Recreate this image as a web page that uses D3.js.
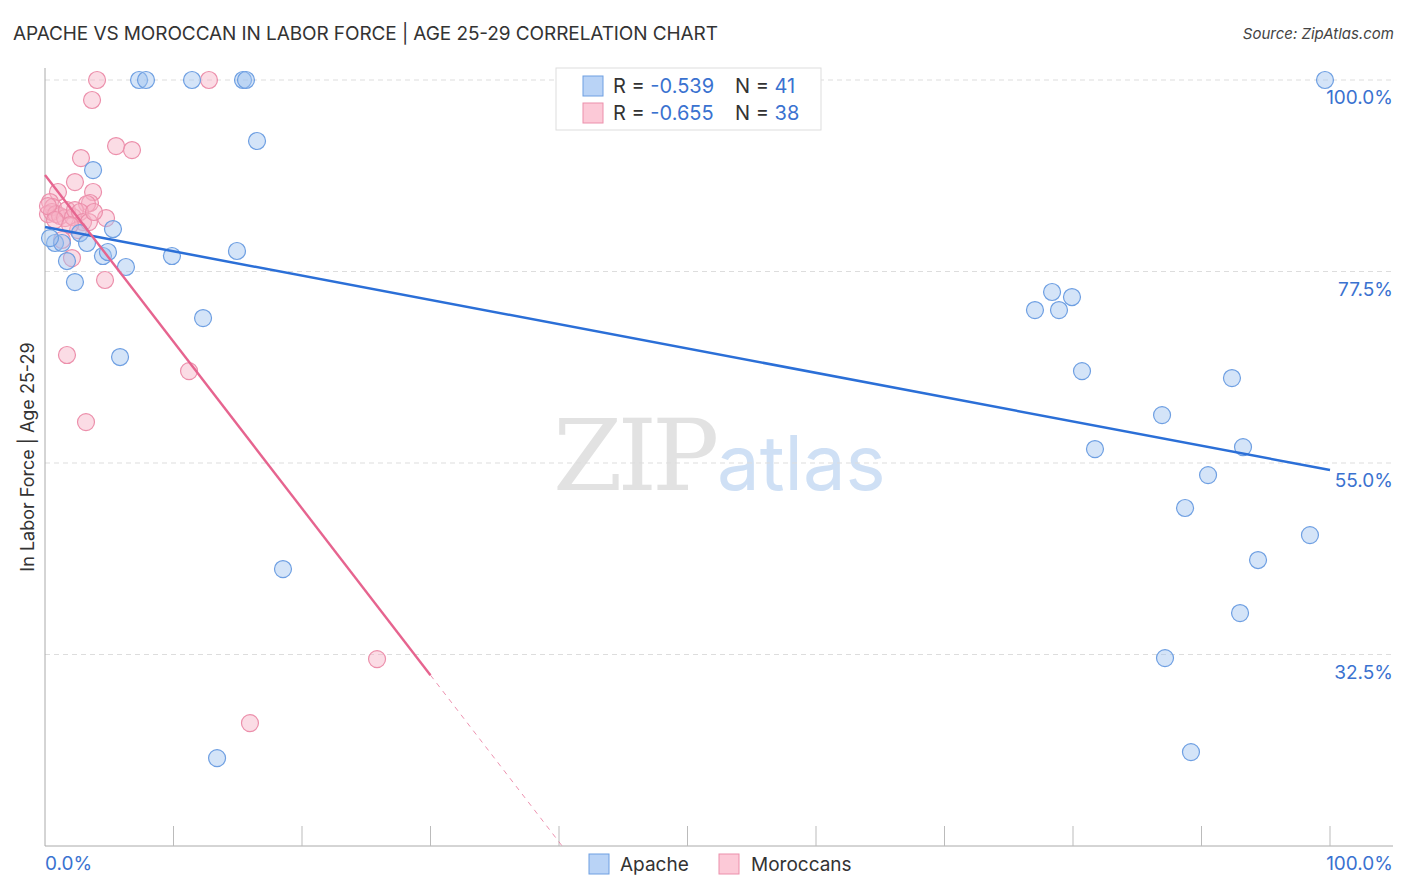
<!DOCTYPE html>
<html><head><meta charset="utf-8">
<script src="https://cdn.jsdelivr.net/npm/d3@7"></script>
<style>body{margin:0;background:#fff;font-family:Inter,"Open Sans",sans-serif}</style>
</head><body><svg id="c" width="1406" height="892"></svg>
<script>
const apacheX=[7.32,7.86,11.44,15.41,15.64,99.61,16.50,3.74,5.29,0.78,1.32,0.39,2.72,3.27,1.71,4.51,4.90,6.30,2.33,9.88,14.94,5.84,12.30,18.52,13.39,78.37,79.92,77.04,78.91,80.70,92.37,86.93,81.71,93.23,90.51,88.72,98.44,94.40,93.00,87.16,89.18];
const apacheY=[100,100,100,100,100,100,92.83,89.42,82.49,80.85,80.85,81.43,82.02,80.85,78.73,79.32,79.79,78.03,76.26,79.32,79.91,67.45,72.03,42.54,20.33,75.09,74.50,72.97,72.97,65.80,64.98,60.63,56.64,56.87,53.58,49.71,46.53,43.60,37.37,32.08,21.03];
const morX=[4.05,12.76,3.66,5.53,6.77,2.80,2.33,1.01,3.74,3.50,3.27,4.75,0.39,0.62,0.23,0.54,0.86,1.17,1.56,1.71,2.18,2.33,2.72,2.96,3.42,2.57,1.32,2.10,4.67,1.71,3.19,11.21,25.84,15.95,0.23,0.78,1.95,3.81];
const morY=[100,100,97.65,92.24,91.77,90.83,88.01,86.84,86.84,85.55,85.43,83.78,85.66,85.08,84.25,84.49,84.25,84.02,83.78,84.72,83.90,84.72,84.49,83.31,83.31,82.37,81.20,79.08,76.50,67.69,59.81,65.80,31.96,24.44,85.19,83.55,82.96,84.49];
const apacheFit=[82.73,54.17]; // y at x=0, y at x=100
const morFit=[88.84,-1.959]; // intercept, slope
const morSolidEnd=30;
const yTicks=[100,77.5,55,32.5];
const xTicks=[0,10,20,30,40,50,60,70,80,90,100];
const legendRows=[{name:"Apache",r:"-0.539",n:"41"},{name:"Moroccans",r:"-0.655",n:"38"}];

const svg=d3.select("#c");
const x=d3.scaleLinear().domain([0,100]).range([45,1330]);
const y=d3.scaleLinear().domain([10,100]).range([846,80]);
const blue={fill:"rgba(160,195,240,0.45)",stroke:"#6e9fe2",line:"#2b6fd7"};
const pink={fill:"rgba(247,178,198,0.45)",stroke:"#ec8fab",line:"#e6648f"};

// title
svg.append("text").attr("x",13).attr("y",40).attr("font-size",19).attr("fill","#333").attr("textLength",705).text("APACHE VS MOROCCAN IN LABOR FORCE | AGE 25-29 CORRELATION CHART");
svg.append("text").attr("x",1394).attr("y",39).attr("text-anchor","end").attr("font-size",15).attr("font-style","italic").attr("fill","#444").text("Source: ZipAtlas.com");

// watermark
svg.append("text").attr("x",553).attr("y",490).attr("font-size",100).attr("font-family","'DejaVu Serif',serif").attr("fill","#e2e2e2").attr("letter-spacing",-5).text("ZIP");
svg.append("text").attr("x",717).attr("y",490).attr("font-size",76).attr("fill","#cfe0f5").text("atlas");

// gridlines
svg.append("g").selectAll("line").data(yTicks).join("line")
 .attr("x1",45).attr("x2",1393).attr("y1",d=>y(d)).attr("y2",d=>y(d))
 .attr("stroke","#ddd").attr("stroke-dasharray","5,4");
// y labels
svg.append("g").selectAll("text").data(yTicks).join("text")
 .attr("x",1393).attr("y",d=>y(d)+24).attr("text-anchor","end").attr("font-size",19).attr("fill","#3a72d0")
 .text(d=>d.toFixed(1)+"%");
// axes lines
svg.append("line").attr("x1",45).attr("x2",45).attr("y1",68).attr("y2",846).attr("stroke","#aaa");
svg.append("line").attr("x1",45).attr("x2",1393).attr("y1",846).attr("y2",846).attr("stroke","#aaa");
svg.append("g").selectAll("line").data(xTicks.slice(1)).join("line")
 .attr("x1",d=>x(d)).attr("x2",d=>x(d)).attr("y1",826).attr("y2",846).attr("stroke","#bbb");
svg.append("text").attr("x",45).attr("y",870).attr("font-size",19).attr("fill","#3a72d0").text("0.0%");
svg.append("text").attr("x",1393).attr("y",870).attr("text-anchor","end").attr("font-size",19).attr("fill","#3a72d0").text("100.0%");
svg.append("text").attr("transform","translate(34,457) rotate(-90)").attr("text-anchor","middle").attr("font-size",18).attr("fill","#333").text("In Labor Force | Age 25-29");

// points
function dots(xs,ys,c){
 svg.append("g").selectAll("circle").data(xs.map((v,i)=>[v,ys[i]])).join("circle")
  .attr("cx",d=>x(d[0])).attr("cy",d=>y(d[1])).attr("r",8.5)
  .attr("fill",c.fill).attr("stroke",c.stroke).attr("stroke-width",1.2);
}
dots(morX,morY,pink);
dots(apacheX,apacheY,blue);

// trend lines
svg.append("line").attr("x1",x(0)).attr("y1",y(apacheFit[0])).attr("x2",x(100)).attr("y2",y(apacheFit[1]))
 .attr("stroke",blue.line).attr("stroke-width",2.5);
const mf=v=>morFit[0]+morFit[1]*v;
const xEnd=(10-morFit[0])/morFit[1];
svg.append("line").attr("x1",x(0)).attr("y1",y(mf(0))).attr("x2",x(morSolidEnd)).attr("y2",y(mf(morSolidEnd)))
 .attr("stroke",pink.line).attr("stroke-width",2.4);
svg.append("line").attr("x1",x(morSolidEnd)).attr("y1",y(mf(morSolidEnd))).attr("x2",x(xEnd)).attr("y2",y(10))
 .attr("stroke",pink.line).attr("stroke-opacity",0.7).attr("stroke-width",1).attr("stroke-dasharray","5,5");

// top legend
const lg=svg.append("g");
lg.append("rect").attr("x",556).attr("y",68).attr("width",265).attr("height",62).attr("fill","#fff").attr("stroke","#ddd");
legendRows.forEach((r,i)=>{
 const c=i?pink:blue, yy=86+i*27;
 lg.append("rect").attr("x",583).attr("y",yy-10).attr("width",20).attr("height",20).attr("fill",i?"#fcc9d7":"#b9d3f6").attr("stroke",c.stroke);
 const t=lg.append("text").attr("x",613).attr("y",yy+7).attr("font-size",20);
 t.append("tspan").attr("fill","#333").text("R = ");
 t.append("tspan").attr("fill","#3a72d0").text(r.r);
 const t2=lg.append("text").attr("x",735).attr("y",yy+7).attr("font-size",20);
 t2.append("tspan").attr("fill","#333").text("N = ");
 t2.append("tspan").attr("fill","#3a72d0").text(r.n);
});
// bottom legend
const bl=[{x:589,tx:620},{x:719,tx:751}];
legendRows.forEach((r,i)=>{
 const c=i?pink:blue;
 svg.append("rect").attr("x",bl[i].x).attr("y",854).attr("width",20).attr("height",20).attr("fill",i?"#fcc9d7":"#b9d3f6").attr("stroke",c.stroke);
 svg.append("text").attr("x",bl[i].tx).attr("y",871).attr("font-size",19).attr("fill","#333").text(r.name);
});
</script></body></html>
